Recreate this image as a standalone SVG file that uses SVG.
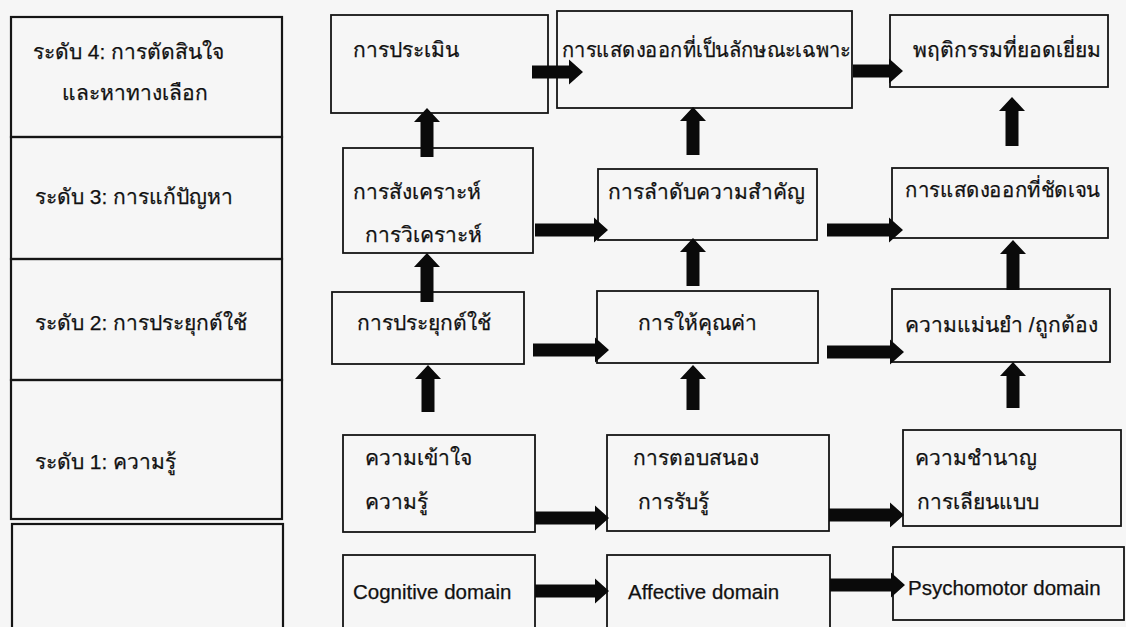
<svg xmlns="http://www.w3.org/2000/svg" width="1126" height="627" viewBox="0 0 1126 627">
<style>
.bx{fill:none;stroke:#151515;stroke-width:1.8}
.lv{fill:none;stroke:#151515;stroke-width:2.2}
.t{font-family:"Liberation Sans","Noto Sans",sans-serif;font-size:21px;fill:#111;stroke:#111;stroke-width:0.25}
.e{font-size:20.5px}
.arr{fill:#0a0a0a}
</style>
<rect x="0" y="0" width="1126" height="627" fill="#f6f6f6"/>
<g id="levels">
<g id="lv4"><rect class="lv" x="11" y="17" width="271" height="120"/><text class="t" x="33" y="59">ระดับ 4: การตัดสินใจ</text><text class="t" x="62" y="100">และหาทางเลือก</text></g>
<g id="lv3"><rect class="lv" x="11" y="137" width="271" height="122"/><text class="t" x="35" y="204">ระดับ 3: การแก้ปัญหา</text></g>
<g id="lv2"><rect class="lv" x="11" y="259" width="271" height="121"/><text class="t" x="35" y="330">ระดับ 2: การประยุกต์ใช้</text></g>
<g id="lv1"><rect class="lv" x="11" y="380" width="271" height="139"/><text class="t" x="35" y="469">ระดับ 1: ความรู้</text></g>
<g id="lv0"><rect class="lv" x="12" y="524" width="271" height="110"/></g>
</g>
<g id="n-eval"><rect class="bx" x="331" y="15" width="217" height="98"/><text class="t" x="353" y="57">การประเมิน</text></g>
<g id="n-charact"><rect class="bx" x="557" y="11" width="295" height="97"/><text class="t" x="562" y="57" textLength="289" lengthAdjust="spacingAndGlyphs">การแสดงออกที่เป็นลักษณะเฉพาะ</text></g>
<g id="n-excel"><rect class="bx" x="890" y="15" width="218" height="72"/><text class="t" x="913" y="57">พฤติกรรมที่ยอดเยี่ยม</text></g>
<g id="n-synth"><rect class="bx" x="343" y="148" width="190" height="105"/><text class="t" x="353" y="199">การสังเคราะห์</text><text class="t" x="365" y="242">การวิเคราะห์</text></g>
<g id="n-organ"><rect class="bx" x="598" y="169" width="219" height="71"/><text class="t" x="608" y="199">การลำดับความสำคัญ</text></g>
<g id="n-artic"><rect class="bx" x="892" y="168" width="216" height="70"/><text class="t" x="905" y="197" textLength="195" lengthAdjust="spacingAndGlyphs">การแสดงออกที่ชัดเจน</text></g>
<g id="n-apply"><rect class="bx" x="332" y="292" width="192" height="72"/><text class="t" x="357" y="330">การประยุกต์ใช้</text></g>
<g id="n-value"><rect class="bx" x="597" y="291" width="221" height="72"/><text class="t" x="638" y="330">การให้คุณค่า</text></g>
<g id="n-prec"><rect class="bx" x="892" y="289" width="218" height="73"/><text class="t" x="905" y="332">ความแม่นยำ /ถูกต้อง</text></g>
<g id="n-know"><rect class="bx" x="343" y="435" width="192" height="97"/><text class="t" x="365" y="465">ความเข้าใจ</text><text class="t" x="365" y="509">ความรู้</text></g>
<g id="n-resp"><rect class="bx" x="607" y="435" width="222" height="96"/><text class="t" x="633" y="465">การตอบสนอง</text><text class="t" x="638" y="509">การรับรู้</text></g>
<g id="n-skill"><rect class="bx" x="903" y="430" width="218" height="96"/><text class="t" x="915" y="465">ความชำนาญ</text><text class="t" x="917" y="509">การเลียนแบบ</text></g>
<g id="n-cog"><rect class="bx" x="343" y="555" width="192" height="80"/><text class="t e" x="353" y="599">Cognitive domain</text></g>
<g id="n-aff"><rect class="bx" x="607" y="555" width="223" height="80"/><text class="t e" x="628" y="599">Affective domain</text></g>
<g id="n-psy"><rect class="bx" x="893" y="547" width="231" height="73"/><text class="t e" x="908" y="595">Psychomotor domain</text></g>
<g id="connectors">
<polygon class="arr" points="532,65.5 569,65.5 569,59.5 583,72 569,84.5 569,78.5 532,78.5"/>
<polygon class="arr" points="853,64.5 889,64.5 889,58.5 903,71 889,83.5 889,77.5 853,77.5"/>
<polygon class="arr" points="535,223.5 594,223.5 594,217.5 608,230 594,242.5 594,236.5 535,236.5"/>
<polygon class="arr" points="827,223.5 889,223.5 889,217.5 903,230 889,242.5 889,236.5 827,236.5"/>
<polygon class="arr" points="533,343.5 595,343.5 595,337.5 609,350 595,362.5 595,356.5 533,356.5"/>
<polygon class="arr" points="827,345.5 890,345.5 890,339.5 904,352 890,364.5 890,358.5 827,358.5"/>
<polygon class="arr" points="535,511.5 595,511.5 595,505.5 609,518 595,530.5 595,524.5 535,524.5"/>
<polygon class="arr" points="829,508.5 890,508.5 890,502.5 904,515 890,527.5 890,521.5 829,521.5"/>
<polygon class="arr" points="535,584.5 595,584.5 595,578.5 609,591 595,603.5 595,597.5 535,597.5"/>
<polygon class="arr" points="830,578.5 891,578.5 891,572.5 905,585 891,597.5 891,591.5 830,591.5"/>
<polygon class="arr" points="420.5,157 420.5,122 414,122 427,108 440,122 433.5,122 433.5,157"/>
<polygon class="arr" points="686.5,155 686.5,121 680,121 693,107 706,121 699.5,121 699.5,155"/>
<polygon class="arr" points="1005.5,146 1005.5,111 999,111 1012,97 1025,111 1018.5,111 1018.5,146"/>
<polygon class="arr" points="420.5,302 420.5,267 414,267 427,253 440,267 433.5,267 433.5,302"/>
<polygon class="arr" points="686.5,286 686.5,252 680,252 693,238 706,252 699.5,252 699.5,286"/>
<polygon class="arr" points="1006.5,290 1006.5,254 1000,254 1013,240 1026,254 1019.5,254 1019.5,290"/>
<polygon class="arr" points="421.5,412 421.5,379 415,379 428,365 441,379 434.5,379 434.5,412"/>
<polygon class="arr" points="686.5,410 686.5,379 680,379 693,365 706,379 699.5,379 699.5,410"/>
<polygon class="arr" points="1006.5,408 1006.5,376 1000,376 1013,362 1026,376 1019.5,376 1019.5,408"/>
</g>
</svg>
